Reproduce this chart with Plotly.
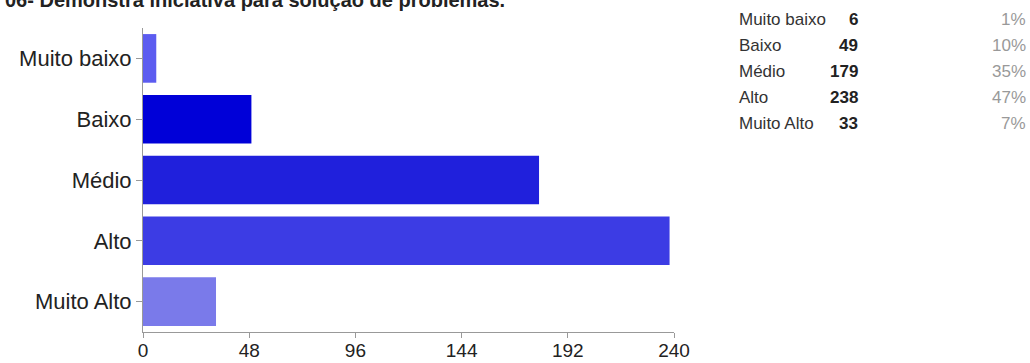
import plotly.graph_objects as go

categories = ["Muito baixo", "Baixo", "Médio", "Alto", "Muito Alto"]
counts = [6, 49, 179, 238, 33]
percents = ["1%", "10%", "35%", "47%", "7%"]
bar_colors = ["#5c5cf0", "#0000d8", "#2020dc", "#3c3ce4", "#7a7aea"]
x_ticks = [0, 48, 96, 144, 192, 240]
title = "06- Demonstra iniciativa para solução de problemas."

# plot area in pixels
L, R, T, B = 143, 674, 28, 332
W = R - L
H = B - T


def px(x):
    return (x - L) / W


def py(y):
    return 1 + (T - y) / H


fig = go.Figure(go.Bar(
    x=counts, y=categories, orientation="h",
    marker=dict(color=bar_colors, line=dict(width=0)),
    hoverinfo="x+y",
))

annotations = [dict(text="<b>" + title + "</b>", xref="paper", yref="paper",
                    x=px(3), y=py(13), xanchor="left", yanchor="bottom",
                    showarrow=False, font=dict(size=20, color="#222"))]

# summary table on the right
row_y0, row_step = 19, 26
for i, (c, n, p) in enumerate(zip(categories, counts, percents)):
    yy = py(row_y0 + i * row_step)
    annotations.append(dict(text=c, xref="paper", yref="paper", x=px(737), y=yy,
                            xanchor="left", yanchor="middle", showarrow=False,
                            font=dict(size=17, color="#333")))
    annotations.append(dict(text="<b>" + str(n) + "</b>", xref="paper", yref="paper",
                            x=px(860), y=yy, xanchor="right", yanchor="middle",
                            showarrow=False, font=dict(size=17, color="#222")))
    annotations.append(dict(text=p, xref="paper", yref="paper", x=px(1028), y=yy,
                            xanchor="right", yanchor="middle", showarrow=False,
                            font=dict(size=17, color="#999")))

fig.update_layout(
    width=1030, height=363,
    margin=dict(l=L, r=1030 - R, t=T, b=363 - B, autoexpand=False),
    paper_bgcolor="white", plot_bgcolor="white",
    font=dict(family="Liberation Sans, Arial", color="#222"),
    showlegend=False,
    bargap=0.2,
    annotations=annotations,
    xaxis=dict(range=[0, 240], tickvals=x_ticks, showgrid=False, zeroline=False,
               showline=True, linecolor="#999", linewidth=1, automargin=False,
               ticks="outside", ticklen=5, tickcolor="#999", ticklabelstandoff=-4,
               tickfont=dict(size=19, color="#222")),
    yaxis=dict(autorange="reversed", showgrid=False, zeroline=False,
               showline=True, linecolor="#999", linewidth=1, automargin=False,
               ticks="outside", ticklen=6, tickcolor="#999",
               tickfont=dict(size=22, color="#222")),
)

fig.write_html("out.html", config={"displayModeBar": False},
               post_script="document.body.style.margin='0';")
